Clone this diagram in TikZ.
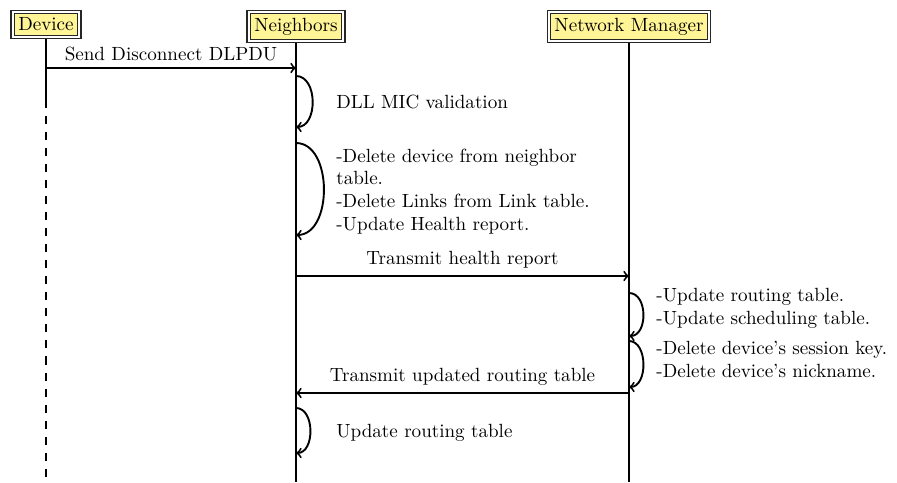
\documentclass[tikz,border=0pt]{standalone}
\usetikzlibrary{positioning}
\definecolor{headfill}{RGB}{255,245,150}
\tikzset{
  head/.style={draw=black!85, double, double distance=1pt, line width=0.6pt, fill=headfill, inner sep=3pt, anchor=north},
  life/.style={line width=1pt, shorten <=1.1pt},
  msg/.style={line width=1pt, ->},
  selfmsg/.style={line width=1pt, ->},
  note/.style={anchor=west, align=left, inner sep=0pt},
}
\begin{document}
\begin{tikzpicture}[x=0.524pt,y=-0.524pt]
\useasboundingbox (0,0) rectangle (897,482);
% lifeline heads
\foreach \name/\x/\txt in {dev/46/Device, nbr/296/Neighbors, nm/629/Network Manager}
  \node[head] (\name) at (\x,11.5) {\txt};
% lifeline ends
\coordinate (devbreak) at (46,108);
\coordinate (devend) at (46,482);
\coordinate (nbrend) at (296,482);
\coordinate (nmend) at (629,482);
\draw[life] (dev.south) -- (devbreak);
\draw[line width=1pt, dash pattern=on 4.2pt off 4.2pt, dash phase=4.2pt] (devbreak) -- (devend);
\draw[life] (nbr.south) -- (nbrend);
\draw[life] (nm.south) -- (nmend);
% messages
\coordinate (dev1) at (46,68);   \coordinate (nbr1) at (296,68);
\coordinate (nbr2) at (296,276); \coordinate (nm2) at (629,276);
\coordinate (nm3) at (629,393);  \coordinate (nbr3) at (296,393);
\draw[msg] (dev1) -- node[above] {Send Disconnect DLPDU} (nbr1);
\draw[msg] (nbr2) -- node[above] {Transmit health report} (nm2);
\draw[msg] (nm3) -- node[above] {Transmit updated routing table} (nbr3);
% self calls
\coordinate (a1) at (296,76);  \coordinate (b1) at (296,127);
\coordinate (a2) at (296,143); \coordinate (b2) at (296,235);
\coordinate (a3) at (629,293); \coordinate (b3) at (629,336);
\coordinate (a4) at (629,341); \coordinate (b4) at (629,387);
\coordinate (a5) at (296,408); \coordinate (b5) at (296,453);
\draw[selfmsg] (a1) .. controls +(22,0) and +(22,0) .. (b1);
\draw[selfmsg] (a2) .. controls +(37,0) and +(37,0) .. (b2);
\draw[selfmsg] (a3) .. controls +(19,0) and +(19,0) .. (b3);
\draw[selfmsg] (a4) .. controls +(19,0) and +(19,0) .. (b4);
\draw[selfmsg] (a5) .. controls +(19,0) and +(19,0) .. (b5);
% notes
\node[note] (n1) at (336,101.5) {DLL MIC validation};
\node[note] (n2) at (336,191.5) {-Delete device from neighbor\\table.\\-Delete Links from Link table.\\-Update Health report.};
\node[note] (n3) at (656,308) {-Update routing table.\\-Update scheduling table.};
\node[note] (n4) at (656,359.5) {-Delete device's session key.\\-Delete device's nickname.};
\node[note] (n5) at (336,433) {Update routing table};
\end{tikzpicture}
\end{document}
